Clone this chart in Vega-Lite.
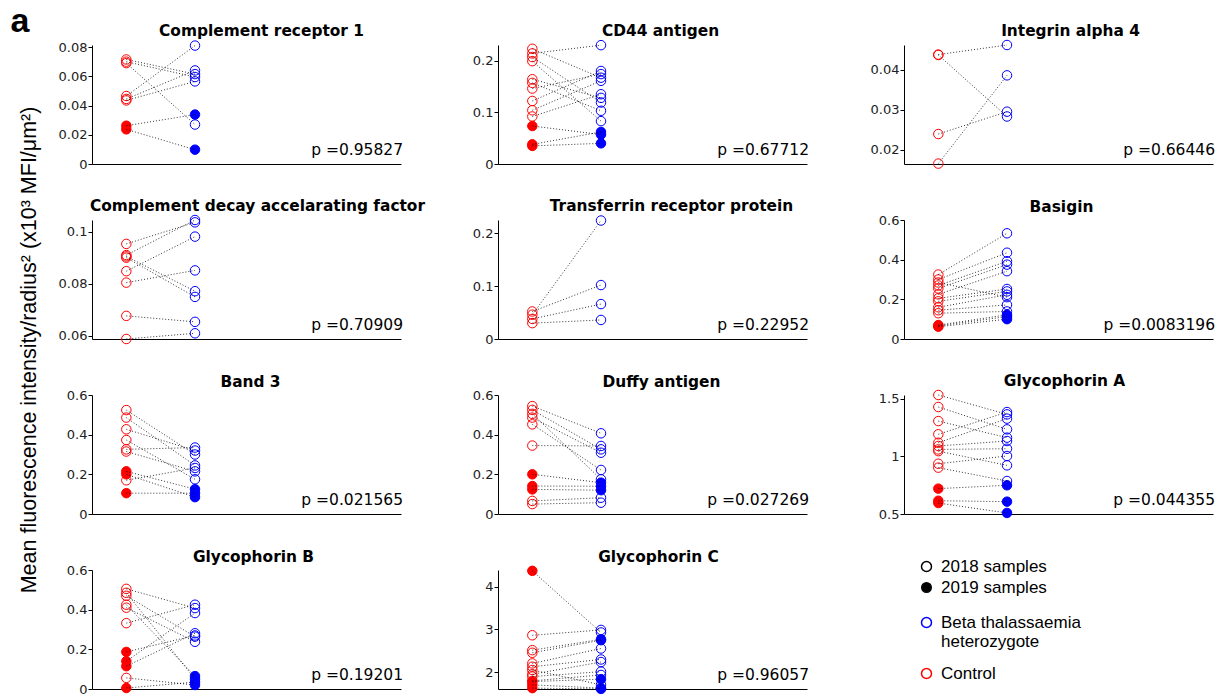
{
  "$schema": "https://vega.github.io/schema/vega-lite/v6.json",
  "padding": {"left": 10, "top": 4, "right": 5, "bottom": 5},
  "title": {"text": "a", "anchor": "start", "frame": "bounds", "font": "Liberation Sans", "fontSize": 34, "fontWeight": "bold", "color": "#000", "offset": -15, "dx": -8},
  "datasets": {
    "pv": [
      {"p": "CR1", "label": "p =0.95827"},
      {"p": "CD44", "label": "p =0.67712"},
      {"p": "ITGA4", "label": "p =0.66446"},
      {"p": "CDAF", "label": "p =0.70909"},
      {"p": "TfR", "label": "p =0.22952"},
      {"p": "BSG", "label": "p =0.0083196"},
      {"p": "Band3", "label": "p =0.021565"},
      {"p": "Duffy", "label": "p =0.027269"},
      {"p": "GYPA", "label": "p =0.044355"},
      {"p": "GYPB", "label": "p =0.19201"},
      {"p": "GYPC", "label": "p =0.96057"}
    ],
    "pts": [
      {"p":"CR1","k":1,"g":"Control","yr":2018,"v":0.0715},{"p":"CR1","k":1,"g":"Beta","yr":2018,"v":0.0615},
      {"p":"CR1","k":2,"g":"Control","yr":2018,"v":0.0700},{"p":"CR1","k":2,"g":"Beta","yr":2018,"v":0.0595},
      {"p":"CR1","k":3,"g":"Control","yr":2018,"v":0.0690},{"p":"CR1","k":3,"g":"Beta","yr":2018,"v":0.0270},
      {"p":"CR1","k":4,"g":"Control","yr":2018,"v":0.0465},{"p":"CR1","k":4,"g":"Beta","yr":2018,"v":0.0810},
      {"p":"CR1","k":5,"g":"Control","yr":2018,"v":0.0445},{"p":"CR1","k":5,"g":"Beta","yr":2018,"v":0.0640},
      {"p":"CR1","k":6,"g":"Control","yr":2018,"v":0.0435},{"p":"CR1","k":6,"g":"Beta","yr":2018,"v":0.0565},
      {"p":"CR1","k":7,"g":"Control","yr":2019,"v":0.0262},{"p":"CR1","k":7,"g":"Beta","yr":2019,"v":0.0338},
      {"p":"CR1","k":8,"g":"Control","yr":2019,"v":0.0237},{"p":"CR1","k":8,"g":"Beta","yr":2019,"v":0.0098},

      {"p":"CD44","k":1,"g":"Control","yr":2018,"v":0.223},{"p":"CD44","k":1,"g":"Beta","yr":2018,"v":0.167},
      {"p":"CD44","k":2,"g":"Control","yr":2018,"v":0.214},{"p":"CD44","k":2,"g":"Beta","yr":2018,"v":0.230},
      {"p":"CD44","k":3,"g":"Control","yr":2018,"v":0.207},{"p":"CD44","k":3,"g":"Beta","yr":2018,"v":0.119},
      {"p":"CD44","k":4,"g":"Control","yr":2018,"v":0.199},{"p":"CD44","k":4,"g":"Beta","yr":2018,"v":0.083},
      {"p":"CD44","k":5,"g":"Control","yr":2018,"v":0.164},{"p":"CD44","k":5,"g":"Beta","yr":2018,"v":0.128},
      {"p":"CD44","k":6,"g":"Control","yr":2018,"v":0.157},{"p":"CD44","k":6,"g":"Beta","yr":2018,"v":0.103},
      {"p":"CD44","k":7,"g":"Control","yr":2018,"v":0.146},{"p":"CD44","k":7,"g":"Beta","yr":2018,"v":0.174},
      {"p":"CD44","k":8,"g":"Control","yr":2018,"v":0.122},{"p":"CD44","k":8,"g":"Beta","yr":2018,"v":0.180},
      {"p":"CD44","k":9,"g":"Control","yr":2018,"v":0.104},{"p":"CD44","k":9,"g":"Beta","yr":2018,"v":0.161},
      {"p":"CD44","k":10,"g":"Control","yr":2018,"v":0.092},{"p":"CD44","k":10,"g":"Beta","yr":2018,"v":0.135},
      {"p":"CD44","k":11,"g":"Control","yr":2019,"v":0.0735},{"p":"CD44","k":11,"g":"Beta","yr":2019,"v":0.057},
      {"p":"CD44","k":12,"g":"Control","yr":2019,"v":0.038},{"p":"CD44","k":12,"g":"Beta","yr":2019,"v":0.062},
      {"p":"CD44","k":13,"g":"Control","yr":2019,"v":0.035},{"p":"CD44","k":13,"g":"Beta","yr":2019,"v":0.040},

      {"p":"ITGA4","k":1,"g":"Control","yr":2018,"v":0.0438},{"p":"ITGA4","k":1,"g":"Beta","yr":2018,"v":0.0462},
      {"p":"ITGA4","k":2,"g":"Control","yr":2018,"v":0.0437},{"p":"ITGA4","k":2,"g":"Beta","yr":2018,"v":0.0283},
      {"p":"ITGA4","k":3,"g":"Control","yr":2018,"v":0.0239},{"p":"ITGA4","k":3,"g":"Beta","yr":2018,"v":0.0295},
      {"p":"ITGA4","k":4,"g":"Control","yr":2018,"v":0.0165},{"p":"ITGA4","k":4,"g":"Beta","yr":2018,"v":0.0386},

      {"p":"CDAF","k":1,"g":"Control","yr":2018,"v":0.0953},{"p":"CDAF","k":1,"g":"Beta","yr":2018,"v":0.1036},
      {"p":"CDAF","k":2,"g":"Control","yr":2018,"v":0.0910},{"p":"CDAF","k":2,"g":"Beta","yr":2018,"v":0.1045},
      {"p":"CDAF","k":3,"g":"Control","yr":2018,"v":0.0905},{"p":"CDAF","k":3,"g":"Beta","yr":2018,"v":0.0771},
      {"p":"CDAF","k":4,"g":"Control","yr":2018,"v":0.0900},{"p":"CDAF","k":4,"g":"Beta","yr":2018,"v":0.0749},
      {"p":"CDAF","k":5,"g":"Control","yr":2018,"v":0.0848},{"p":"CDAF","k":5,"g":"Beta","yr":2018,"v":0.0981},
      {"p":"CDAF","k":6,"g":"Control","yr":2018,"v":0.0804},{"p":"CDAF","k":6,"g":"Beta","yr":2018,"v":0.0851},
      {"p":"CDAF","k":7,"g":"Control","yr":2018,"v":0.0676},{"p":"CDAF","k":7,"g":"Beta","yr":2018,"v":0.0653},
      {"p":"CDAF","k":8,"g":"Control","yr":2018,"v":0.0587},{"p":"CDAF","k":8,"g":"Beta","yr":2018,"v":0.0609},

      {"p":"TfR","k":1,"g":"Control","yr":2018,"v":0.046},{"p":"TfR","k":1,"g":"Beta","yr":2018,"v":0.224},
      {"p":"TfR","k":2,"g":"Control","yr":2018,"v":0.052},{"p":"TfR","k":2,"g":"Beta","yr":2018,"v":0.102},
      {"p":"TfR","k":3,"g":"Control","yr":2018,"v":0.038},{"p":"TfR","k":3,"g":"Beta","yr":2018,"v":0.066},
      {"p":"TfR","k":4,"g":"Control","yr":2018,"v":0.030},{"p":"TfR","k":4,"g":"Beta","yr":2018,"v":0.036},

      {"p":"BSG","k":1,"g":"Control","yr":2018,"v":0.325},{"p":"BSG","k":1,"g":"Beta","yr":2018,"v":0.533},
      {"p":"BSG","k":2,"g":"Control","yr":2018,"v":0.300},{"p":"BSG","k":2,"g":"Beta","yr":2018,"v":0.435},
      {"p":"BSG","k":3,"g":"Control","yr":2018,"v":0.285},{"p":"BSG","k":3,"g":"Beta","yr":2018,"v":0.211},
      {"p":"BSG","k":4,"g":"Control","yr":2018,"v":0.270},{"p":"BSG","k":4,"g":"Beta","yr":2018,"v":0.392},
      {"p":"BSG","k":5,"g":"Control","yr":2018,"v":0.255},{"p":"BSG","k":5,"g":"Beta","yr":2018,"v":0.375},
      {"p":"BSG","k":6,"g":"Control","yr":2018,"v":0.225},{"p":"BSG","k":6,"g":"Beta","yr":2018,"v":0.342},
      {"p":"BSG","k":7,"g":"Control","yr":2018,"v":0.205},{"p":"BSG","k":7,"g":"Beta","yr":2018,"v":0.252},
      {"p":"BSG","k":8,"g":"Control","yr":2018,"v":0.190},{"p":"BSG","k":8,"g":"Beta","yr":2018,"v":0.240},
      {"p":"BSG","k":9,"g":"Control","yr":2018,"v":0.160},{"p":"BSG","k":9,"g":"Beta","yr":2018,"v":0.223},
      {"p":"BSG","k":10,"g":"Control","yr":2018,"v":0.145},{"p":"BSG","k":10,"g":"Beta","yr":2018,"v":0.172},
      {"p":"BSG","k":11,"g":"Control","yr":2018,"v":0.130},{"p":"BSG","k":11,"g":"Beta","yr":2018,"v":0.139},
      {"p":"BSG","k":12,"g":"Control","yr":2019,"v":0.070},{"p":"BSG","k":12,"g":"Beta","yr":2019,"v":0.122},
      {"p":"BSG","k":13,"g":"Control","yr":2019,"v":0.066},{"p":"BSG","k":13,"g":"Beta","yr":2019,"v":0.113},
      {"p":"BSG","k":14,"g":"Control","yr":2019,"v":0.062},{"p":"BSG","k":14,"g":"Beta","yr":2019,"v":0.100},

      {"p":"Band3","k":1,"g":"Control","yr":2018,"v":0.524},{"p":"Band3","k":1,"g":"Beta","yr":2018,"v":0.300},
      {"p":"Band3","k":2,"g":"Control","yr":2018,"v":0.486},{"p":"Band3","k":2,"g":"Beta","yr":2018,"v":0.245},
      {"p":"Band3","k":3,"g":"Control","yr":2018,"v":0.427},{"p":"Band3","k":3,"g":"Beta","yr":2018,"v":0.320},
      {"p":"Band3","k":4,"g":"Control","yr":2018,"v":0.373},{"p":"Band3","k":4,"g":"Beta","yr":2018,"v":0.175},
      {"p":"Band3","k":5,"g":"Control","yr":2018,"v":0.326},{"p":"Band3","k":5,"g":"Beta","yr":2018,"v":0.335},
      {"p":"Band3","k":6,"g":"Control","yr":2018,"v":0.315},{"p":"Band3","k":6,"g":"Beta","yr":2018,"v":0.215},
      {"p":"Band3","k":7,"g":"Control","yr":2018,"v":0.170},{"p":"Band3","k":7,"g":"Beta","yr":2018,"v":0.232},
      {"p":"Band3","k":8,"g":"Control","yr":2019,"v":0.215},{"p":"Band3","k":8,"g":"Beta","yr":2019,"v":0.125},
      {"p":"Band3","k":9,"g":"Control","yr":2019,"v":0.200},{"p":"Band3","k":9,"g":"Beta","yr":2019,"v":0.085},
      {"p":"Band3","k":10,"g":"Control","yr":2019,"v":0.105},{"p":"Band3","k":10,"g":"Beta","yr":2019,"v":0.105},

      {"p":"Duffy","k":1,"g":"Control","yr":2018,"v":0.544},{"p":"Duffy","k":1,"g":"Beta","yr":2018,"v":0.407},
      {"p":"Duffy","k":2,"g":"Control","yr":2018,"v":0.525},{"p":"Duffy","k":2,"g":"Beta","yr":2018,"v":0.326},
      {"p":"Duffy","k":3,"g":"Control","yr":2018,"v":0.505},{"p":"Duffy","k":3,"g":"Beta","yr":2018,"v":0.175},
      {"p":"Duffy","k":4,"g":"Control","yr":2018,"v":0.486},{"p":"Duffy","k":4,"g":"Beta","yr":2018,"v":0.309},
      {"p":"Duffy","k":5,"g":"Control","yr":2018,"v":0.452},{"p":"Duffy","k":5,"g":"Beta","yr":2018,"v":0.222},
      {"p":"Duffy","k":6,"g":"Control","yr":2018,"v":0.345},{"p":"Duffy","k":6,"g":"Beta","yr":2018,"v":0.343},
      {"p":"Duffy","k":7,"g":"Control","yr":2018,"v":0.066},{"p":"Duffy","k":7,"g":"Beta","yr":2018,"v":0.082},
      {"p":"Duffy","k":8,"g":"Control","yr":2018,"v":0.050},{"p":"Duffy","k":8,"g":"Beta","yr":2018,"v":0.057},
      {"p":"Duffy","k":9,"g":"Control","yr":2019,"v":0.200},{"p":"Duffy","k":9,"g":"Beta","yr":2019,"v":0.158},
      {"p":"Duffy","k":10,"g":"Control","yr":2019,"v":0.141},{"p":"Duffy","k":10,"g":"Beta","yr":2019,"v":0.140},
      {"p":"Duffy","k":11,"g":"Control","yr":2019,"v":0.124},{"p":"Duffy","k":11,"g":"Beta","yr":2019,"v":0.120},

      {"p":"GYPA","k":1,"g":"Control","yr":2018,"v":1.532},{"p":"GYPA","k":1,"g":"Beta","yr":2018,"v":1.364},
      {"p":"GYPA","k":2,"g":"Control","yr":2018,"v":1.428},{"p":"GYPA","k":2,"g":"Beta","yr":2018,"v":1.234},
      {"p":"GYPA","k":3,"g":"Control","yr":2018,"v":1.306},{"p":"GYPA","k":3,"g":"Beta","yr":2018,"v":1.162},
      {"p":"GYPA","k":4,"g":"Control","yr":2018,"v":1.191},{"p":"GYPA","k":4,"g":"Beta","yr":2018,"v":1.384},
      {"p":"GYPA","k":5,"g":"Control","yr":2018,"v":1.118},{"p":"GYPA","k":5,"g":"Beta","yr":2018,"v":1.327},
      {"p":"GYPA","k":6,"g":"Control","yr":2018,"v":1.090},{"p":"GYPA","k":6,"g":"Beta","yr":2018,"v":1.133},
      {"p":"GYPA","k":7,"g":"Control","yr":2018,"v":1.060},{"p":"GYPA","k":7,"g":"Beta","yr":2018,"v":1.066},
      {"p":"GYPA","k":8,"g":"Control","yr":2018,"v":1.045},{"p":"GYPA","k":8,"g":"Beta","yr":2018,"v":0.922},
      {"p":"GYPA","k":9,"g":"Control","yr":2018,"v":0.936},{"p":"GYPA","k":9,"g":"Beta","yr":2018,"v":1.003},
      {"p":"GYPA","k":10,"g":"Control","yr":2018,"v":0.902},{"p":"GYPA","k":10,"g":"Beta","yr":2018,"v":0.786},
      {"p":"GYPA","k":11,"g":"Control","yr":2019,"v":0.720},{"p":"GYPA","k":11,"g":"Beta","yr":2019,"v":0.749},
      {"p":"GYPA","k":12,"g":"Control","yr":2019,"v":0.615},{"p":"GYPA","k":12,"g":"Beta","yr":2019,"v":0.607},
      {"p":"GYPA","k":13,"g":"Control","yr":2019,"v":0.595},{"p":"GYPA","k":13,"g":"Beta","yr":2019,"v":0.509},

      {"p":"GYPB","k":1,"g":"Control","yr":2018,"v":0.505},{"p":"GYPB","k":1,"g":"Beta","yr":2018,"v":0.408},
      {"p":"GYPB","k":2,"g":"Control","yr":2018,"v":0.485},{"p":"GYPB","k":2,"g":"Beta","yr":2019,"v":0.050},
      {"p":"GYPB","k":3,"g":"Control","yr":2018,"v":0.470},{"p":"GYPB","k":3,"g":"Beta","yr":2018,"v":0.264},
      {"p":"GYPB","k":4,"g":"Control","yr":2018,"v":0.425},{"p":"GYPB","k":4,"g":"Beta","yr":2019,"v":0.065},
      {"p":"GYPB","k":5,"g":"Control","yr":2018,"v":0.410},{"p":"GYPB","k":5,"g":"Beta","yr":2018,"v":0.238},
      {"p":"GYPB","k":6,"g":"Control","yr":2018,"v":0.332},{"p":"GYPB","k":6,"g":"Beta","yr":2018,"v":0.425},
      {"p":"GYPB","k":7,"g":"Control","yr":2018,"v":0.056},{"p":"GYPB","k":7,"g":"Beta","yr":2019,"v":0.020},
      {"p":"GYPB","k":8,"g":"Control","yr":2019,"v":0.187},{"p":"GYPB","k":8,"g":"Beta","yr":2018,"v":0.270},
      {"p":"GYPB","k":9,"g":"Control","yr":2019,"v":0.140},{"p":"GYPB","k":9,"g":"Beta","yr":2018,"v":0.383},
      {"p":"GYPB","k":10,"g":"Control","yr":2019,"v":0.115},{"p":"GYPB","k":10,"g":"Beta","yr":2018,"v":0.281},
      {"p":"GYPB","k":11,"g":"Control","yr":2019,"v":0.005},{"p":"GYPB","k":11,"g":"Beta","yr":2019,"v":0.035},

      {"p":"GYPC","k":1,"g":"Control","yr":2019,"v":4.37},{"p":"GYPC","k":1,"g":"Beta","yr":2018,"v":2.93},
      {"p":"GYPC","k":2,"g":"Control","yr":2018,"v":2.865},{"p":"GYPC","k":2,"g":"Beta","yr":2018,"v":2.99},
      {"p":"GYPC","k":3,"g":"Control","yr":2018,"v":2.517},{"p":"GYPC","k":3,"g":"Beta","yr":2019,"v":2.77},
      {"p":"GYPC","k":4,"g":"Control","yr":2018,"v":2.456},{"p":"GYPC","k":4,"g":"Beta","yr":2019,"v":2.75},
      {"p":"GYPC","k":5,"g":"Control","yr":2018,"v":2.208},{"p":"GYPC","k":5,"g":"Beta","yr":2018,"v":2.556},
      {"p":"GYPC","k":6,"g":"Control","yr":2018,"v":2.131},{"p":"GYPC","k":6,"g":"Beta","yr":2018,"v":2.30},
      {"p":"GYPC","k":7,"g":"Control","yr":2018,"v":2.054},{"p":"GYPC","k":7,"g":"Beta","yr":2018,"v":1.707},
      {"p":"GYPC","k":8,"g":"Control","yr":2018,"v":1.954},{"p":"GYPC","k":8,"g":"Beta","yr":2018,"v":2.24},
      {"p":"GYPC","k":9,"g":"Control","yr":2018,"v":1.900},{"p":"GYPC","k":9,"g":"Beta","yr":2018,"v":2.015},
      {"p":"GYPC","k":10,"g":"Control","yr":2018,"v":1.80},{"p":"GYPC","k":10,"g":"Beta","yr":2018,"v":1.938},
      {"p":"GYPC","k":11,"g":"Control","yr":2019,"v":1.784},{"p":"GYPC","k":11,"g":"Beta","yr":2019,"v":1.84},
      {"p":"GYPC","k":12,"g":"Control","yr":2019,"v":1.707},{"p":"GYPC","k":12,"g":"Beta","yr":2019,"v":1.63},
      {"p":"GYPC","k":13,"g":"Control","yr":2019,"v":1.63},{"p":"GYPC","k":13,"g":"Beta","yr":2019,"v":1.612}
    ]
  },
  "vconcat": [
    {
      "title": {"text": "Mean fluorescence intensity/radius² (x10³ MFI/μm²)", "orient": "left", "anchor": "middle", "frame": "bounds", "font": "Liberation Sans", "fontSize": 21.5, "fontWeight": "normal", "color": "#000", "offset": 18, "dx": 10},
      "columns": 3,
      "bounds": "flush",
      "spacing": {"row": 56, "column": 97},
      "concat": [
        {
          "title": {"text": "Complement receptor 1", "dx": 15}, "width": 309, "height": 119,
          "layer": [
            {"data": {"name": "pts"}, "transform": [{"filter": "datum.p == 'CR1'"}],
             "encoding": {
               "x": {"field": "g", "type": "nominal", "scale": {"type": "point", "domain": ["Control", "Beta", "c", "d", "e"], "padding": 0.25, "align": 1}, "axis": {"ticks": false, "labels": false}},
               "y": {"field": "v", "type": "quantitative", "scale": {"domain": [0, 0.0814], "nice": false, "zero": false}, "axis": {"values": [0, 0.02, 0.04, 0.06, 0.08]}}
             },
             "layer": [
               {"mark": {"type": "point", "shape": "circle", "size": 90, "strokeWidth": 1, "opacity": 1, "filled": false},
                "encoding": {
                  "color": {"field": "g", "type": "nominal", "scale": {"domain": ["Beta", "Control"], "range": ["#0000ff", "#ff0000"]},
                    "legend": {"orient": "none", "legendX": 826, "legendY": 569, "title": null, "symbolFillColor": "transparent", "rowPadding": 14, "labelExpr": "datum.label == 'Beta' ? ['Beta thalassaemia', 'heterozygote'] : datum.label"}},
                  "fill": {"field": "g", "type": "nominal", "scale": {"domain": ["Control", "Beta"], "range": ["#ff0000", "#0000ff"]}, "legend": null},
                  "fillOpacity": {"field": "yr", "type": "ordinal", "scale": {"domain": [2018, 2019], "range": [0, 1]}},
                  "shape": {"field": "yr", "type": "nominal", "scale": {"domain": [2018, 2019], "range": ["circle", "circle"]},
                    "legend": {"orient": "none", "legendX": 826, "legendY": 513, "title": null, "values": [2018], "symbolFillColor": "transparent", "symbolStrokeColor": "#000", "labelExpr": "datum.label + ' samples'"}},
                  "size": {"field": "yr", "type": "ordinal", "scale": {"domain": [2019, 2018], "range": [90, 90]},
                    "legend": {"orient": "none", "legendX": 826, "legendY": 534, "title": null, "values": [2019], "symbolFillColor": "#000", "symbolStrokeColor": "#000", "labelExpr": "datum.label + ' samples'"}}
                }},
               {"mark": {"type": "line", "color": "#000", "strokeWidth": 0.8, "strokeDash": [1, 2]}, "encoding": {"detail": {"field": "k", "type": "nominal"}}}
             ]},
            {"data": {"name": "pv"}, "transform": [{"filter": "datum.p == 'CR1'"}],
             "mark": {"type": "text", "align": "right", "baseline": "alphabetic", "dx": 2, "dy": -9, "font": "DejaVu Sans", "fontSize": 15.5, "color": "#000"},
             "encoding": {"x": {"value": "width"}, "y": {"value": "height"}, "text": {"field": "label"}}}
          ]
        },
        {
          "title": {"text": "CD44 antigen", "dx": 8}, "width": 309, "height": 119,
          "layer": [
            {"data": {"name": "pts"}, "transform": [{"filter": "datum.p == 'CD44'"}],
             "encoding": {
               "x": {"field": "g", "type": "nominal", "scale": {"type": "point", "domain": ["Control", "Beta", "c", "d", "e"], "padding": 0.25, "align": 1}, "axis": {"ticks": false, "labels": false}},
               "y": {"field": "v", "type": "quantitative", "scale": {"domain": [0, 0.2303], "nice": false, "zero": false}, "axis": {"values": [0, 0.1, 0.2]}}
             },
             "layer": [
               {"mark": {"type": "point", "shape": "circle", "size": 90, "strokeWidth": 1, "opacity": 1, "filled": false},
                "encoding": {
                  "color": {"field": "g", "type": "nominal", "scale": {"domain": ["Beta", "Control"], "range": ["#0000ff", "#ff0000"]}},
                  "fill": {"field": "g", "type": "nominal", "scale": {"domain": ["Control", "Beta"], "range": ["#ff0000", "#0000ff"]}, "legend": null},
                  "fillOpacity": {"field": "yr", "type": "ordinal", "scale": {"domain": [2018, 2019], "range": [0, 1]}}
                }},
               {"mark": {"type": "line", "color": "#000", "strokeWidth": 0.8, "strokeDash": [1, 2]}, "encoding": {"detail": {"field": "k", "type": "nominal"}}}
             ]},
            {"data": {"name": "pv"}, "transform": [{"filter": "datum.p == 'CD44'"}],
             "mark": {"type": "text", "align": "right", "baseline": "alphabetic", "dx": 2, "dy": -9, "font": "DejaVu Sans", "fontSize": 15.5, "color": "#000"},
             "encoding": {"x": {"value": "width"}, "y": {"value": "height"}, "text": {"field": "label"}}}
          ]
        },
        {
          "title": {"text": "Integrin alpha 4", "dx": 12}, "width": 309, "height": 119,
          "layer": [
            {"data": {"name": "pts"}, "transform": [{"filter": "datum.p == 'ITGA4'"}],
             "encoding": {
               "x": {"field": "g", "type": "nominal", "scale": {"type": "point", "domain": ["Control", "Beta", "c", "d", "e"], "padding": 0.25, "align": 1}, "axis": {"ticks": false, "labels": false}},
               "y": {"field": "v", "type": "quantitative", "scale": {"domain": [0.0164, 0.0462], "nice": false, "zero": false}, "axis": {"values": [0.02, 0.03, 0.04]}}
             },
             "layer": [
               {"mark": {"type": "point", "shape": "circle", "size": 90, "strokeWidth": 1, "opacity": 1, "filled": false},
                "encoding": {
                  "color": {"field": "g", "type": "nominal", "scale": {"domain": ["Beta", "Control"], "range": ["#0000ff", "#ff0000"]}},
                  "fill": {"field": "g", "type": "nominal", "scale": {"domain": ["Control", "Beta"], "range": ["#ff0000", "#0000ff"]}, "legend": null},
                  "fillOpacity": {"field": "yr", "type": "ordinal", "scale": {"domain": [2018, 2019], "range": [0, 1]}}
                }},
               {"mark": {"type": "line", "color": "#000", "strokeWidth": 0.8, "strokeDash": [1, 2]}, "encoding": {"detail": {"field": "k", "type": "nominal"}}}
             ]},
            {"data": {"name": "pv"}, "transform": [{"filter": "datum.p == 'ITGA4'"}],
             "mark": {"type": "text", "align": "right", "baseline": "alphabetic", "dx": 2, "dy": -9, "font": "DejaVu Sans", "fontSize": 15.5, "color": "#000"},
             "encoding": {"x": {"value": "width"}, "y": {"value": "height"}, "text": {"field": "label"}}}
          ]
        },
        {
          "title": {"text": "Complement decay accelarating factor", "dx": 11}, "width": 309, "height": 119,
          "layer": [
            {"data": {"name": "pts"}, "transform": [{"filter": "datum.p == 'CDAF'"}],
             "encoding": {
               "x": {"field": "g", "type": "nominal", "scale": {"type": "point", "domain": ["Control", "Beta", "c", "d", "e"], "padding": 0.25, "align": 1}, "axis": {"ticks": false, "labels": false}},
               "y": {"field": "v", "type": "quantitative", "scale": {"domain": [0.0587, 0.1045], "nice": false, "zero": false}, "axis": {"values": [0.06, 0.08, 0.1]}}
             },
             "layer": [
               {"mark": {"type": "point", "shape": "circle", "size": 90, "strokeWidth": 1, "opacity": 1, "filled": false},
                "encoding": {
                  "color": {"field": "g", "type": "nominal", "scale": {"domain": ["Beta", "Control"], "range": ["#0000ff", "#ff0000"]}},
                  "fill": {"field": "g", "type": "nominal", "scale": {"domain": ["Control", "Beta"], "range": ["#ff0000", "#0000ff"]}, "legend": null},
                  "fillOpacity": {"field": "yr", "type": "ordinal", "scale": {"domain": [2018, 2019], "range": [0, 1]}}
                }},
               {"mark": {"type": "line", "color": "#000", "strokeWidth": 0.8, "strokeDash": [1, 2]}, "encoding": {"detail": {"field": "k", "type": "nominal"}}}
             ]},
            {"data": {"name": "pv"}, "transform": [{"filter": "datum.p == 'CDAF'"}],
             "mark": {"type": "text", "align": "right", "baseline": "alphabetic", "dx": 2, "dy": -9, "font": "DejaVu Sans", "fontSize": 15.5, "color": "#000"},
             "encoding": {"x": {"value": "width"}, "y": {"value": "height"}, "text": {"field": "label"}}}
          ]
        },
        {
          "title": {"text": "Transferrin receptor protein", "dx": 19}, "width": 309, "height": 119,
          "layer": [
            {"data": {"name": "pts"}, "transform": [{"filter": "datum.p == 'TfR'"}],
             "encoding": {
               "x": {"field": "g", "type": "nominal", "scale": {"type": "point", "domain": ["Control", "Beta", "c", "d", "e"], "padding": 0.25, "align": 1}, "axis": {"ticks": false, "labels": false}},
               "y": {"field": "v", "type": "quantitative", "scale": {"domain": [0, 0.225], "nice": false, "zero": false}, "axis": {"values": [0, 0.1, 0.2]}}
             },
             "layer": [
               {"mark": {"type": "point", "shape": "circle", "size": 90, "strokeWidth": 1, "opacity": 1, "filled": false},
                "encoding": {
                  "color": {"field": "g", "type": "nominal", "scale": {"domain": ["Beta", "Control"], "range": ["#0000ff", "#ff0000"]}},
                  "fill": {"field": "g", "type": "nominal", "scale": {"domain": ["Control", "Beta"], "range": ["#ff0000", "#0000ff"]}, "legend": null},
                  "fillOpacity": {"field": "yr", "type": "ordinal", "scale": {"domain": [2018, 2019], "range": [0, 1]}}
                }},
               {"mark": {"type": "line", "color": "#000", "strokeWidth": 0.8, "strokeDash": [1, 2]}, "encoding": {"detail": {"field": "k", "type": "nominal"}}}
             ]},
            {"data": {"name": "pv"}, "transform": [{"filter": "datum.p == 'TfR'"}],
             "mark": {"type": "text", "align": "right", "baseline": "alphabetic", "dx": 2, "dy": -9, "font": "DejaVu Sans", "fontSize": 15.5, "color": "#000"},
             "encoding": {"x": {"value": "width"}, "y": {"value": "height"}, "text": {"field": "label"}}}
          ]
        },
        {
          "title": {"text": "Basigin", "dx": 3}, "width": 309, "height": 119,
          "layer": [
            {"data": {"name": "pts"}, "transform": [{"filter": "datum.p == 'BSG'"}],
             "encoding": {
               "x": {"field": "g", "type": "nominal", "scale": {"type": "point", "domain": ["Control", "Beta", "c", "d", "e"], "padding": 0.25, "align": 1}, "axis": {"ticks": false, "labels": false}},
               "y": {"field": "v", "type": "quantitative", "scale": {"domain": [0, 0.6], "nice": false, "zero": false}, "axis": {"values": [0, 0.2, 0.4, 0.6]}}
             },
             "layer": [
               {"mark": {"type": "point", "shape": "circle", "size": 90, "strokeWidth": 1, "opacity": 1, "filled": false},
                "encoding": {
                  "color": {"field": "g", "type": "nominal", "scale": {"domain": ["Beta", "Control"], "range": ["#0000ff", "#ff0000"]}},
                  "fill": {"field": "g", "type": "nominal", "scale": {"domain": ["Control", "Beta"], "range": ["#ff0000", "#0000ff"]}, "legend": null},
                  "fillOpacity": {"field": "yr", "type": "ordinal", "scale": {"domain": [2018, 2019], "range": [0, 1]}}
                }},
               {"mark": {"type": "line", "color": "#000", "strokeWidth": 0.8, "strokeDash": [1, 2]}, "encoding": {"detail": {"field": "k", "type": "nominal"}}}
             ]},
            {"data": {"name": "pv"}, "transform": [{"filter": "datum.p == 'BSG'"}],
             "mark": {"type": "text", "align": "right", "baseline": "alphabetic", "dx": 2, "dy": -9, "font": "DejaVu Sans", "fontSize": 15.5, "color": "#000"},
             "encoding": {"x": {"value": "width"}, "y": {"value": "height"}, "text": {"field": "label"}}}
          ]
        },
        {
          "title": {"text": "Band 3", "dx": 4}, "width": 309, "height": 119,
          "layer": [
            {"data": {"name": "pts"}, "transform": [{"filter": "datum.p == 'Band3'"}],
             "encoding": {
               "x": {"field": "g", "type": "nominal", "scale": {"type": "point", "domain": ["Control", "Beta", "c", "d", "e"], "padding": 0.25, "align": 1}, "axis": {"ticks": false, "labels": false}},
               "y": {"field": "v", "type": "quantitative", "scale": {"domain": [0, 0.6], "nice": false, "zero": false}, "axis": {"values": [0, 0.2, 0.4, 0.6]}}
             },
             "layer": [
               {"mark": {"type": "point", "shape": "circle", "size": 90, "strokeWidth": 1, "opacity": 1, "filled": false},
                "encoding": {
                  "color": {"field": "g", "type": "nominal", "scale": {"domain": ["Beta", "Control"], "range": ["#0000ff", "#ff0000"]}},
                  "fill": {"field": "g", "type": "nominal", "scale": {"domain": ["Control", "Beta"], "range": ["#ff0000", "#0000ff"]}, "legend": null},
                  "fillOpacity": {"field": "yr", "type": "ordinal", "scale": {"domain": [2018, 2019], "range": [0, 1]}}
                }},
               {"mark": {"type": "line", "color": "#000", "strokeWidth": 0.8, "strokeDash": [1, 2]}, "encoding": {"detail": {"field": "k", "type": "nominal"}}}
             ]},
            {"data": {"name": "pv"}, "transform": [{"filter": "datum.p == 'Band3'"}],
             "mark": {"type": "text", "align": "right", "baseline": "alphabetic", "dx": 2, "dy": -9, "font": "DejaVu Sans", "fontSize": 15.5, "color": "#000"},
             "encoding": {"x": {"value": "width"}, "y": {"value": "height"}, "text": {"field": "label"}}}
          ]
        },
        {
          "title": {"text": "Duffy antigen", "dx": 9}, "width": 309, "height": 119,
          "layer": [
            {"data": {"name": "pts"}, "transform": [{"filter": "datum.p == 'Duffy'"}],
             "encoding": {
               "x": {"field": "g", "type": "nominal", "scale": {"type": "point", "domain": ["Control", "Beta", "c", "d", "e"], "padding": 0.25, "align": 1}, "axis": {"ticks": false, "labels": false}},
               "y": {"field": "v", "type": "quantitative", "scale": {"domain": [0, 0.6], "nice": false, "zero": false}, "axis": {"values": [0, 0.2, 0.4, 0.6]}}
             },
             "layer": [
               {"mark": {"type": "point", "shape": "circle", "size": 90, "strokeWidth": 1, "opacity": 1, "filled": false},
                "encoding": {
                  "color": {"field": "g", "type": "nominal", "scale": {"domain": ["Beta", "Control"], "range": ["#0000ff", "#ff0000"]}},
                  "fill": {"field": "g", "type": "nominal", "scale": {"domain": ["Control", "Beta"], "range": ["#ff0000", "#0000ff"]}, "legend": null},
                  "fillOpacity": {"field": "yr", "type": "ordinal", "scale": {"domain": [2018, 2019], "range": [0, 1]}}
                }},
               {"mark": {"type": "line", "color": "#000", "strokeWidth": 0.8, "strokeDash": [1, 2]}, "encoding": {"detail": {"field": "k", "type": "nominal"}}}
             ]},
            {"data": {"name": "pv"}, "transform": [{"filter": "datum.p == 'Duffy'"}],
             "mark": {"type": "text", "align": "right", "baseline": "alphabetic", "dx": 2, "dy": -9, "font": "DejaVu Sans", "fontSize": 15.5, "color": "#000"},
             "encoding": {"x": {"value": "width"}, "y": {"value": "height"}, "text": {"field": "label"}}}
          ]
        },
        {
          "title": {"text": "Glycophorin A", "dx": 6}, "width": 309, "height": 119,
          "layer": [
            {"data": {"name": "pts"}, "transform": [{"filter": "datum.p == 'GYPA'"}],
             "encoding": {
               "x": {"field": "g", "type": "nominal", "scale": {"type": "point", "domain": ["Control", "Beta", "c", "d", "e"], "padding": 0.25, "align": 1}, "axis": {"ticks": false, "labels": false}},
               "y": {"field": "v", "type": "quantitative", "scale": {"domain": [0.5, 1.532], "nice": false, "zero": false}, "axis": {"values": [0.5, 1, 1.5]}}
             },
             "layer": [
               {"mark": {"type": "point", "shape": "circle", "size": 90, "strokeWidth": 1, "opacity": 1, "filled": false},
                "encoding": {
                  "color": {"field": "g", "type": "nominal", "scale": {"domain": ["Beta", "Control"], "range": ["#0000ff", "#ff0000"]}},
                  "fill": {"field": "g", "type": "nominal", "scale": {"domain": ["Control", "Beta"], "range": ["#ff0000", "#0000ff"]}, "legend": null},
                  "fillOpacity": {"field": "yr", "type": "ordinal", "scale": {"domain": [2018, 2019], "range": [0, 1]}}
                }},
               {"mark": {"type": "line", "color": "#000", "strokeWidth": 0.8, "strokeDash": [1, 2]}, "encoding": {"detail": {"field": "k", "type": "nominal"}}}
             ]},
            {"data": {"name": "pv"}, "transform": [{"filter": "datum.p == 'GYPA'"}],
             "mark": {"type": "text", "align": "right", "baseline": "alphabetic", "dx": 2, "dy": -9, "font": "DejaVu Sans", "fontSize": 15.5, "color": "#000"},
             "encoding": {"x": {"value": "width"}, "y": {"value": "height"}, "text": {"field": "label"}}}
          ]
        },
        {
          "title": {"text": "Glycophorin B", "dx": 7}, "width": 309, "height": 119,
          "layer": [
            {"data": {"name": "pts"}, "transform": [{"filter": "datum.p == 'GYPB'"}],
             "encoding": {
               "x": {"field": "g", "type": "nominal", "scale": {"type": "point", "domain": ["Control", "Beta", "c", "d", "e"], "padding": 0.25, "align": 1}, "axis": {"ticks": false, "labels": false}},
               "y": {"field": "v", "type": "quantitative", "scale": {"domain": [0, 0.6], "nice": false, "zero": false}, "axis": {"values": [0, 0.2, 0.4, 0.6]}}
             },
             "layer": [
               {"mark": {"type": "point", "shape": "circle", "size": 90, "strokeWidth": 1, "opacity": 1, "filled": false},
                "encoding": {
                  "color": {"field": "g", "type": "nominal", "scale": {"domain": ["Beta", "Control"], "range": ["#0000ff", "#ff0000"]}},
                  "fill": {"field": "g", "type": "nominal", "scale": {"domain": ["Control", "Beta"], "range": ["#ff0000", "#0000ff"]}, "legend": null},
                  "fillOpacity": {"field": "yr", "type": "ordinal", "scale": {"domain": [2018, 2019], "range": [0, 1]}}
                }},
               {"mark": {"type": "line", "color": "#000", "strokeWidth": 0.8, "strokeDash": [1, 2]}, "encoding": {"detail": {"field": "k", "type": "nominal"}}}
             ]},
            {"data": {"name": "pv"}, "transform": [{"filter": "datum.p == 'GYPB'"}],
             "mark": {"type": "text", "align": "right", "baseline": "alphabetic", "dx": 2, "dy": -9, "font": "DejaVu Sans", "fontSize": 15.5, "color": "#000"},
             "encoding": {"x": {"value": "width"}, "y": {"value": "height"}, "text": {"field": "label"}}}
          ]
        },
        {
          "title": {"text": "Glycophorin C", "dx": 6}, "width": 309, "height": 119,
          "layer": [
            {"data": {"name": "pts"}, "transform": [{"filter": "datum.p == 'GYPC'"}],
             "encoding": {
               "x": {"field": "g", "type": "nominal", "scale": {"type": "point", "domain": ["Control", "Beta", "c", "d", "e"], "padding": 0.25, "align": 1}, "axis": {"ticks": false, "labels": false}},
               "y": {"field": "v", "type": "quantitative", "scale": {"domain": [1.61, 4.39], "nice": false, "zero": false}, "axis": {"values": [2, 3, 4]}}
             },
             "layer": [
               {"mark": {"type": "point", "shape": "circle", "size": 90, "strokeWidth": 1, "opacity": 1, "filled": false},
                "encoding": {
                  "color": {"field": "g", "type": "nominal", "scale": {"domain": ["Beta", "Control"], "range": ["#0000ff", "#ff0000"]}},
                  "fill": {"field": "g", "type": "nominal", "scale": {"domain": ["Control", "Beta"], "range": ["#ff0000", "#0000ff"]}, "legend": null},
                  "fillOpacity": {"field": "yr", "type": "ordinal", "scale": {"domain": [2018, 2019], "range": [0, 1]}}
                }},
               {"mark": {"type": "line", "color": "#000", "strokeWidth": 0.8, "strokeDash": [1, 2]}, "encoding": {"detail": {"field": "k", "type": "nominal"}}}
             ]},
            {"data": {"name": "pv"}, "transform": [{"filter": "datum.p == 'GYPC'"}],
             "mark": {"type": "text", "align": "right", "baseline": "alphabetic", "dx": 2, "dy": -9, "font": "DejaVu Sans", "fontSize": 15.5, "color": "#000"},
             "encoding": {"x": {"value": "width"}, "y": {"value": "height"}, "text": {"field": "label"}}}
          ]
        }
      ]
    }
  ],
  "config": {
    "view": {"stroke": null},
    "axis": {"grid": false, "title": null, "domainColor": "#000", "domainWidth": 1, "tickColor": "#000", "tickSize": 4, "labelFont": "DejaVu Sans", "labelFontSize": 13, "labelColor": "#222", "labelPadding": 1, "format": "~g"},
    "title": {"font": "DejaVu Sans", "fontSize": 15.4, "fontWeight": "bold", "color": "#000", "offset": -1, "frame": "group"},
    "legend": {"symbolType": "circle", "symbolSize": 100, "symbolStrokeWidth": 1.5, "labelFont": "Liberation Sans", "labelFontSize": 17, "labelColor": "#000", "labelOffset": 6, "padding": 0, "labelLimit": 300}
  }
}
